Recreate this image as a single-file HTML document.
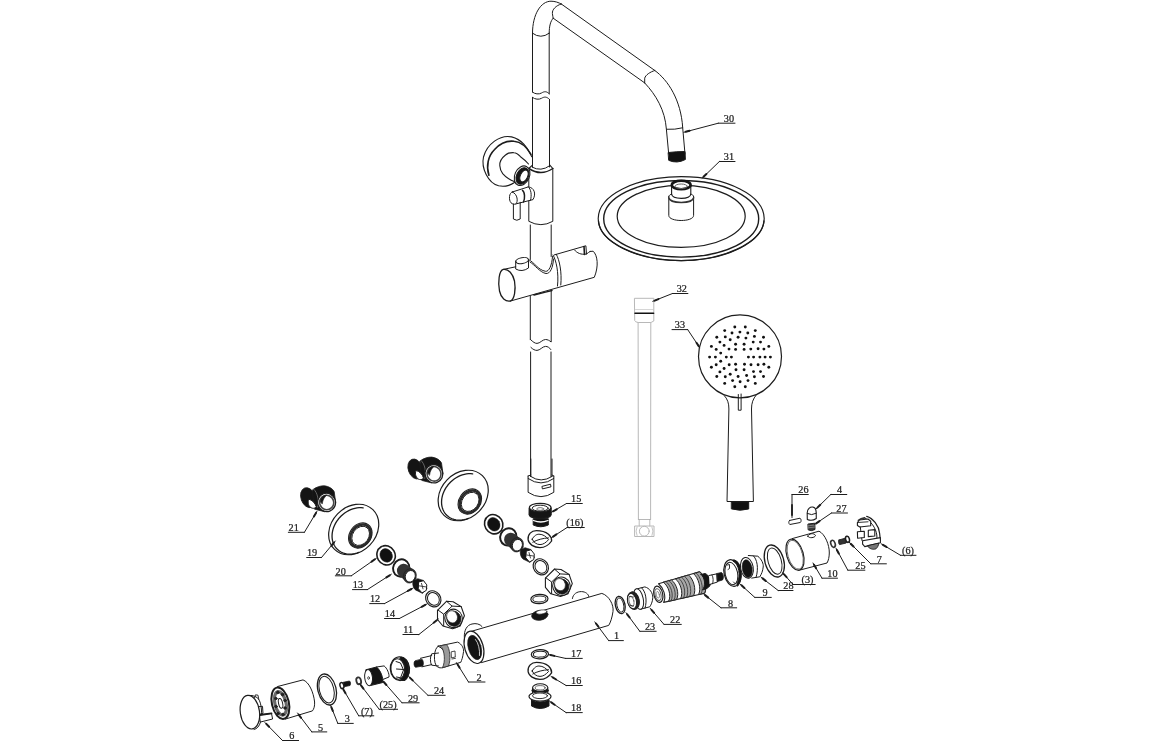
<!DOCTYPE html>
<html><head><meta charset="utf-8"><style>
html,body{margin:0;padding:0;background:#fff;}
body{width:1156px;height:742px;overflow:hidden;}
svg{display:block;}
text{font-family:"Liberation Serif",serif;font-size:11px;fill:#1c1c1c;stroke:#1c1c1c;stroke-width:0.25px;}
svg{will-change:transform;}
</style></head><body>
<svg width="1156" height="742" viewBox="0 0 1156 742" stroke-linecap="round" stroke-linejoin="round">
<path d="M532.5,33.2 L532.5,92.1" stroke="#1c1c1c" stroke-width="1.0" fill="none" />
<path d="M549.2,33.2 L549.2,93.8" stroke="#1c1c1c" stroke-width="1.0" fill="none" />
<path d="M532.5,92.1 C535,94.2 539,94.5 541.5,93 C544,91.5 546.5,90.8 549.2,93.8" stroke="#1c1c1c" stroke-width="1.0" fill="none" />
<path d="M532.5,97.4 C535,99.5 539,99.8 541.5,98.3 C544,96.8 546.5,96.2 549.5,99.4" stroke="#1c1c1c" stroke-width="1.0" fill="none" />
<path d="M532.5,97.4 L532.5,167" stroke="#1c1c1c" stroke-width="1.0" fill="none" />
<path d="M549.5,99.4 L549.5,167" stroke="#1c1c1c" stroke-width="1.0" fill="none" />
<path d="M532.5,33.2 Q540.8,39.5 549.2,33.2" stroke="#1c1c1c" stroke-width="1.0" fill="none" />
<path d="M532.5,33.2 C532.5,14 541,1.2 551,1.2 C555,1.2 558.5,2.5 561.3,4" stroke="#1c1c1c" stroke-width="1.0" fill="none" />
<path d="M549.2,33.2 C549.2,26 550.5,21 553.2,18.2" stroke="#1c1c1c" stroke-width="1.0" fill="none" />
<path d="M561.3,4 C556,5.5 552,9.5 552.4,13.5 C552.6,15.5 553,17 553.2,18.2" stroke="#1c1c1c" stroke-width="1.0" fill="none" />
<path d="M561.3,4 L654.8,70.5" stroke="#1c1c1c" stroke-width="1.0" fill="none" />
<path d="M553.2,18.2 L644.7,82.9" stroke="#1c1c1c" stroke-width="1.0" fill="none" />
<path d="M654.8,70.5 C650,72 645.5,75 644.7,78.2 L644.7,82.9" stroke="#1c1c1c" stroke-width="1.0" fill="none" />
<path d="M654.8,70.5 C668,80 681,100 682.7,127.8 L685,154" stroke="#1c1c1c" stroke-width="1.0" fill="none" />
<path d="M644.7,82.9 C656,95 665,110 666.4,129.3 L668.7,154" stroke="#1c1c1c" stroke-width="1.0" fill="none" />
<path d="M666.4,129.3 Q675,129.8 682.7,127.8" stroke="#1c1c1c" stroke-width="1.0" fill="none" />
<path d="M668.5,152.5 Q677,151.5 685,151.5 L685.4,159.5 Q677,164 669,160.5 Z" stroke="#1c1c1c" stroke-width="1.0" fill="#111" />
<line x1="718.3" y1="123.2" x2="735" y2="123.2" stroke="#1c1c1c" stroke-width="1.0"/>
<line x1="718.3" y1="123.2" x2="683.8" y2="132.3" stroke="#1c1c1c" stroke-width="1.0"/>
<line x1="685.7" y1="131.8" x2="689.6" y2="130.8" stroke="#1c1c1c" stroke-width="2.0"/>
<text transform="translate(734.0 122.0) scale(0.93 1)" text-anchor="end">30</text>
<ellipse cx="681.2" cy="218.6" rx="83" ry="42" transform="rotate(0 681.2 218.6)" stroke="#1c1c1c" stroke-width="1.15" fill="none"/>
<ellipse cx="681.2" cy="218.8" rx="77.5" ry="38.3" transform="rotate(0 681.2 218.8)" stroke="#1c1c1c" stroke-width="1.4" fill="none"/>
<path d="M598.5,221 C600,243 640,260.6 681.2,260.6 C722,260.6 762,243 764,221" stroke="#1c1c1c" stroke-width="1.3" fill="none" />
<ellipse cx="681.2" cy="216.3" rx="64" ry="31" transform="rotate(0 681.2 216.3)" stroke="#1c1c1c" stroke-width="1.2" fill="none"/>
<path d="M668.8,196.5 L668.8,215.4 C668.8,222.2 693.6,222.2 693.6,215.4 L693.6,196.5" stroke="#1c1c1c" stroke-width="1.0" fill="#fff" />
<path d="M668.8,196.5 C669,195 670.5,194.3 671.6,194.2 M693.6,196.5 C693.4,195 692,194.3 690.8,194.2" stroke="#1c1c1c" stroke-width="1.0" fill="none" />
<path d="M668.8,197.8 C670,204 692.5,204 693.6,197.8" stroke="#333" stroke-width="1.6" fill="none" />
<path d="M671.6,194.2 C672.5,199.8 690,199.8 690.8,194.2" stroke="#1c1c1c" stroke-width="1.1" fill="none" />
<path d="M671.6,185 L671.6,194.2 M690.8,185 L690.8,194.2" stroke="#1c1c1c" stroke-width="1.1" fill="none" />
<ellipse cx="681.2" cy="185.0" rx="9.4" ry="4.3" transform="rotate(0 681.2 185.0)" stroke="#161616" stroke-width="2.6" fill="#fff"/>
<ellipse cx="681.2" cy="186.3" rx="6.2" ry="2.3" transform="rotate(0 681.2 186.3)" stroke="#666" stroke-width="1.0" fill="none"/>
<line x1="719.4" y1="161.5" x2="735" y2="161.5" stroke="#1c1c1c" stroke-width="1.0"/>
<line x1="719.4" y1="161.5" x2="702.1" y2="178.2" stroke="#1c1c1c" stroke-width="1.0"/>
<line x1="703.5" y1="176.8" x2="706.4" y2="174.0" stroke="#1c1c1c" stroke-width="2.0"/>
<text transform="translate(734.0 160.3) scale(0.93 1)" text-anchor="end">31</text>
<path d="M532.2,167.2 Q541,172 549.6,165.8" stroke="#1c1c1c" stroke-width="1.0" fill="none" />
<path d="M528.8,168.5 L532.2,165.3 M549.6,164.8 L552.8,168.5" stroke="#1c1c1c" stroke-width="1.1" fill="none" />
<path d="M528.8,168.5 Q541,176.5 552.8,168.5" stroke="#1c1c1c" stroke-width="1.5" fill="none" />
<path d="M528.8,168.5 L528.8,221.3 Q541,228 552.8,221.3 L552.8,168.5" stroke="#1c1c1c" stroke-width="1.0" fill="none" />
<path d="M530.3,225 L530.3,259.5 M530.3,296 L530.3,339.7" stroke="#1c1c1c" stroke-width="1.0" fill="none" />
<path d="M551.2,225 L551.2,256.5 M551.2,291 L551.2,341.7" stroke="#1c1c1c" stroke-width="1.0" fill="none" />
<path d="M531.8,156.7 C527,147 522,139.5 511.6,136.9 C500,134.5 487,144 483.5,157 C481,168 488,183 498.6,185.8 C504,187 510,185.5 514.5,182.5" stroke="#1c1c1c" stroke-width="1.1" fill="none" />
<path d="M488.9,175.3 C486,166 488,156 494.6,149.5 C500,143.5 507,140.5 514,141.3 C522,142 527,147.5 531,154.3" stroke="#1c1c1c" stroke-width="1.6" fill="none" />
<path d="M528.5,164 C526,161 523,158.5 520.5,156.7 C518.5,154.5 516.5,152.7 514,152.7 C510,152.5 507.5,153 505.5,155 C501,158.5 499.5,162 499.8,165.6 C500,169 501,171.5 502.7,173.7 C506,177.5 510,180 514.8,181.8" stroke="#1c1c1c" stroke-width="1.1" fill="none" />
<ellipse cx="522.1" cy="175.7" rx="7.3" ry="10.2" transform="rotate(25 522.1 175.7)" stroke="#1c1c1c" stroke-width="1.1" fill="#fff"/>
<ellipse cx="522.5" cy="176.0" rx="5.9" ry="8.7" transform="rotate(25 522.5 176.0)" stroke="#161616" stroke-width="1.0" fill="#161616"/>
<ellipse cx="524.0" cy="176.0" rx="3.6" ry="6.2" transform="rotate(25 524.0 176.0)" stroke="#1c1c1c" stroke-width="0.9" fill="#fff"/>
<path d="M512.3,192 L528.3,186.9 C534,187.5 536.5,193.5 533,199.6 L516,203.9" stroke="#1c1c1c" stroke-width="1.0" fill="#fff" />
<path d="M512.3,192 C509,192.5 508.5,200 511,202.8 C512.5,204.3 514.5,204.5 516,203.9 C518,202 518,194 512.3,192 Z" stroke="#1c1c1c" stroke-width="1.0" fill="#fff" />
<path d="M522.5,190.3 C525,192 525,199 523.5,202" stroke="#1c1c1c" stroke-width="1.5" fill="none" />
<path d="M528.3,186.9 C531,189 532,195 530.5,200.3" stroke="#1c1c1c" stroke-width="1.0" fill="none" />
<path d="M513.4,204 L513.4,219 Q516.8,221.5 520.2,219 L520.2,202.3" stroke="#1c1c1c" stroke-width="1.0" fill="none" />
<path d="M503.3,269.4 L515.7,266.8" stroke="#1c1c1c" stroke-width="1.0" fill="none" />
<path d="M590,251.5 L593.1,251.2 C597.5,255 599,266 594.3,277.3 L510.6,301" stroke="#1c1c1c" stroke-width="1.0" fill="none" />
<path d="M503.3,269.4 C499,270.5 497.8,282 499.5,291 C501,298 505.5,302 510.6,301 C514.5,299 516,290 514.5,281 C513,274 508.5,268.5 503.3,269.4 Z" stroke="#1c1c1c" stroke-width="1.3" fill="none" />
<path d="M553,255 C556,260 559,272 557.5,286" stroke="#1c1c1c" stroke-width="1.0" fill="none" />
<path d="M556.3,254.3 C559.5,260 562,272 560.8,285" stroke="#1c1c1c" stroke-width="1.0" fill="none" />
<path d="M554.3,254.9 L585.9,245.8 L586.5,254" stroke="#1c1c1c" stroke-width="1.0" fill="none" />
<path d="M574.5,250 C577,253 581,255 586.5,254 C588,253 589,252 590,251.5" stroke="#1c1c1c" stroke-width="1.0" fill="none" />
<path d="M584,246.5 L584.5,254.5" stroke="#1c1c1c" stroke-width="1.6" fill="none" />
<path d="M528.8,259.7 C534,262 538,270 545.5,271.3 C549,272 552,265 552.5,256.5" stroke="#1c1c1c" stroke-width="1.0" fill="none" />
<path d="M530,262 C535,265 540,272.5 546,273.5 C550,274 553,268 553.5,259" stroke="#1c1c1c" stroke-width="1.0" fill="none" />
<path d="M515.7,261 L515.7,269 Q522,272.5 528.5,268 L528.5,260" stroke="#1c1c1c" stroke-width="1.0" fill="none" />
<ellipse cx="522.1" cy="260.6" rx="6.4" ry="3.0" transform="rotate(-10 522.1 260.6)" stroke="#1c1c1c" stroke-width="1.0" fill="none"/>
<path d="M534,295 C538,294 546,292 552,290.5" stroke="#1c1c1c" stroke-width="1.4" fill="none" />
<circle cx="740" cy="356.4" r="41.5" stroke="#1c1c1c" stroke-width="1.2" fill="none"/>
<circle cx="734.8" cy="327.0" r="1.45" fill="#111"/>
<circle cx="745.3" cy="327.0" r="1.45" fill="#111"/>
<circle cx="724.7" cy="330.6" r="1.45" fill="#111"/>
<circle cx="739.9" cy="332.1" r="1.45" fill="#111"/>
<circle cx="732.0" cy="333.0" r="1.45" fill="#111"/>
<circle cx="747.8" cy="333.0" r="1.45" fill="#111"/>
<circle cx="755.3" cy="330.6" r="1.45" fill="#111"/>
<circle cx="716.8" cy="337.3" r="1.45" fill="#111"/>
<circle cx="725.3" cy="336.9" r="1.45" fill="#111"/>
<circle cx="730.2" cy="339.7" r="1.45" fill="#111"/>
<circle cx="738.1" cy="337.3" r="1.45" fill="#111"/>
<circle cx="745.9" cy="338.1" r="1.45" fill="#111"/>
<circle cx="754.4" cy="336.4" r="1.45" fill="#111"/>
<circle cx="763.5" cy="337.3" r="1.45" fill="#111"/>
<circle cx="719.9" cy="342.1" r="1.45" fill="#111"/>
<circle cx="735.6" cy="344.2" r="1.45" fill="#111"/>
<circle cx="744.1" cy="344.2" r="1.45" fill="#111"/>
<circle cx="753.2" cy="342.1" r="1.45" fill="#111"/>
<circle cx="760.5" cy="342.1" r="1.45" fill="#111"/>
<circle cx="711.4" cy="346.4" r="1.45" fill="#111"/>
<circle cx="724.1" cy="345.4" r="1.45" fill="#111"/>
<circle cx="768.8" cy="346.4" r="1.45" fill="#111"/>
<circle cx="716.2" cy="349.4" r="1.45" fill="#111"/>
<circle cx="729.0" cy="349.1" r="1.45" fill="#111"/>
<circle cx="735.6" cy="349.4" r="1.45" fill="#111"/>
<circle cx="744.1" cy="349.4" r="1.45" fill="#111"/>
<circle cx="750.8" cy="349.1" r="1.45" fill="#111"/>
<circle cx="758.1" cy="348.8" r="1.45" fill="#111"/>
<circle cx="763.9" cy="349.1" r="1.45" fill="#111"/>
<circle cx="720.7" cy="353.1" r="1.45" fill="#111"/>
<circle cx="709.6" cy="357.1" r="1.45" fill="#111"/>
<circle cx="715.4" cy="357.1" r="1.45" fill="#111"/>
<circle cx="726.3" cy="357.1" r="1.45" fill="#111"/>
<circle cx="731.4" cy="357.1" r="1.45" fill="#111"/>
<circle cx="748.4" cy="357.1" r="1.45" fill="#111"/>
<circle cx="753.6" cy="357.1" r="1.45" fill="#111"/>
<circle cx="759.9" cy="357.1" r="1.45" fill="#111"/>
<circle cx="765.1" cy="357.1" r="1.45" fill="#111"/>
<circle cx="770.4" cy="357.1" r="1.45" fill="#111"/>
<circle cx="720.7" cy="361.2" r="1.45" fill="#111"/>
<circle cx="716.2" cy="364.8" r="1.45" fill="#111"/>
<circle cx="729.2" cy="364.8" r="1.45" fill="#111"/>
<circle cx="735.6" cy="364.3" r="1.45" fill="#111"/>
<circle cx="744.5" cy="364.3" r="1.45" fill="#111"/>
<circle cx="751.0" cy="364.8" r="1.45" fill="#111"/>
<circle cx="758.1" cy="364.8" r="1.45" fill="#111"/>
<circle cx="763.9" cy="364.3" r="1.45" fill="#111"/>
<circle cx="711.4" cy="367.3" r="1.45" fill="#111"/>
<circle cx="724.1" cy="368.5" r="1.45" fill="#111"/>
<circle cx="768.8" cy="367.3" r="1.45" fill="#111"/>
<circle cx="719.9" cy="371.9" r="1.45" fill="#111"/>
<circle cx="736.0" cy="369.7" r="1.45" fill="#111"/>
<circle cx="744.1" cy="369.7" r="1.45" fill="#111"/>
<circle cx="753.5" cy="371.6" r="1.45" fill="#111"/>
<circle cx="760.5" cy="371.6" r="1.45" fill="#111"/>
<circle cx="716.8" cy="376.5" r="1.45" fill="#111"/>
<circle cx="725.3" cy="376.7" r="1.45" fill="#111"/>
<circle cx="730.2" cy="374.3" r="1.45" fill="#111"/>
<circle cx="738.1" cy="376.5" r="1.45" fill="#111"/>
<circle cx="746.6" cy="375.5" r="1.45" fill="#111"/>
<circle cx="754.4" cy="376.7" r="1.45" fill="#111"/>
<circle cx="763.5" cy="376.5" r="1.45" fill="#111"/>
<circle cx="724.7" cy="383.4" r="1.45" fill="#111"/>
<circle cx="732.6" cy="380.6" r="1.45" fill="#111"/>
<circle cx="740.1" cy="381.8" r="1.45" fill="#111"/>
<circle cx="748.0" cy="380.6" r="1.45" fill="#111"/>
<circle cx="755.3" cy="383.4" r="1.45" fill="#111"/>
<circle cx="734.8" cy="386.7" r="1.45" fill="#111"/>
<circle cx="745.3" cy="386.7" r="1.45" fill="#111"/>
<path d="M724.2,395.5 C727.5,399 728.9,403 728.9,409 L727,501.5 L753.4,501.5 L751.5,409 C751.5,403 753,399 756.2,395" stroke="#1c1c1c" stroke-width="1.0" fill="none" />
<path d="M738.3,394.5 L738.3,410.2 L741.1,410.2 L741.1,394" stroke="#1c1c1c" stroke-width="1.0" fill="none" />
<path d="M731.7,502 L748.7,502 L748.7,509 Q740,511.5 731.7,509 Z" stroke="#1c1c1c" stroke-width="1.0" fill="#111" />
<line x1="672" y1="329.6" x2="687.7" y2="329.6" stroke="#1c1c1c" stroke-width="1.0"/>
<line x1="687.7" y1="329.6" x2="699.8" y2="347.8" stroke="#1c1c1c" stroke-width="1.0"/>
<line x1="698.7" y1="346.1" x2="696.5" y2="342.8" stroke="#1c1c1c" stroke-width="2.0"/>
<text transform="translate(674.8 328.40000000000003) scale(0.93 1)">33</text>
<path d="M634.8,298.3 L653.8,298.3 L653.8,321 Q651,322.5 650.8,322.5 L638.1,322.5 Q635,322 634.8,321 Z" stroke="#b8b8b8" stroke-width="1.0" fill="none" />
<path d="M635,313.2 L653.6,313.2" stroke="#111" stroke-width="1.5" fill="none" />
<path d="M635.5,309.5 L653.2,309.5" stroke="#bbb" stroke-width="0.6" fill="none" />
<path d="M638.1,322.5 L638.4,519.5 M650.8,322.5 L650.6,519.5 M638.4,519.5 L650.6,519.5" stroke="#b8b8b8" stroke-width="1.0" fill="none" />
<path d="M639.2,519.5 L639.2,526 M649.8,519.5 L649.8,526" stroke="#aaa" stroke-width="0.8" fill="none" />
<path d="M635,526 L654,526 L654,536.5 L635,536.5 Z" stroke="#b8b8b8" stroke-width="1.0" fill="none" />
<circle cx="644.3" cy="531.2" r="4.9" stroke="#b8b8b8" stroke-width="1.0" fill="none"/>
<path d="M637,527 Q635,531 637,535.5 M652,527 Q654,531 652,535.5" stroke="#b8b8b8" stroke-width="0.8" fill="none" />
<line x1="672.5" y1="293.5" x2="687.9" y2="293.5" stroke="#1c1c1c" stroke-width="1.0"/>
<line x1="672.5" y1="293.5" x2="652.8" y2="301.3" stroke="#1c1c1c" stroke-width="1.0"/>
<line x1="654.7" y1="300.6" x2="658.4" y2="299.1" stroke="#1c1c1c" stroke-width="2.0"/>
<text transform="translate(686.9 292.3) scale(0.93 1)" text-anchor="end">32</text>
<path d="M530.8,459 L530.8,476.5 M552,459 L552,476.5" stroke="#1c1c1c" stroke-width="1.0" fill="none" />
<path d="M530.6,352 L530.6,476.5 M551,352 L551,476.5" stroke="#1c1c1c" stroke-width="1.0" fill="none" />
<path d="M528.1,476 L530.8,475 M552,475 L553.8,476" stroke="#1c1c1c" stroke-width="1.0" fill="none" />
<path d="M528.1,476 L528.1,492.3 Q541,501 553.8,492.3 L553.8,476" stroke="#1c1c1c" stroke-width="1.0" fill="none" />
<path d="M528.1,478.5 Q541,487.5 553.8,478.5" stroke="#1c1c1c" stroke-width="1.0" fill="none" />
<path d="M530.8,476.5 Q541,483.5 552,476.5" stroke="#1c1c1c" stroke-width="1.0" fill="none" />
<path d="M542.3,486.3 L550.5,484.2 L551,486.8 L542.8,488.8 Z" stroke="#1c1c1c" stroke-width="1.0" fill="none" />
<path d="M530.7,339.7 C533,342 535,343.4 537,343.4 C540,343.4 542.5,339.5 545.5,339.5 C547.5,339.5 549.5,340.5 550.8,341.7" stroke="#1c1c1c" stroke-width="1.0" fill="none" />
<path d="M530.9,347.4 C533,349.5 535,350.4 537,350.4 C540,350.4 542.5,346.4 545.5,346.4 C547.5,346.4 549.5,347.5 550.8,349.5" stroke="#1c1c1c" stroke-width="1.0" fill="none" />
<path d="M529.3,508 L529.3,515 C530.5,519.5 549.5,519.5 551,515 L551,508" stroke="#1c1c1c" stroke-width="1.1" fill="none" />
<path d="M529.3,508 C529.3,505 551,505 551,508 L551,515 C549.5,519.5 530.5,519.5 529.3,515 Z" stroke="#1c1c1c" stroke-width="1.0" fill="#151515" />
<ellipse cx="540.2" cy="507.6" rx="10.8" ry="4.3" transform="rotate(0 540.2 507.6)" stroke="#1c1c1c" stroke-width="1.2" fill="#fff"/>
<ellipse cx="540.2" cy="508.2" rx="8.0" ry="3.0" transform="rotate(0 540.2 508.2)" stroke="#1c1c1c" stroke-width="1.0" fill="none"/>
<ellipse cx="540.2" cy="509.0" rx="3.5" ry="1.4" transform="rotate(0 540.2 509.0)" stroke="#555" stroke-width="0.8" fill="none"/>
<path d="M533.2,519 L533.2,525 Q540.7,528.5 548.3,525 L548.3,519 Z" stroke="#1c1c1c" stroke-width="1.0" fill="#151515" />
<path d="M533.5,520.5 Q540.7,523.5 548,520.5" stroke="#fff" stroke-width="1.3" fill="none" />
<line x1="566.5" y1="503.5" x2="582.3" y2="503.5" stroke="#1c1c1c" stroke-width="1.0"/>
<line x1="566.5" y1="503.5" x2="551.4" y2="512.3" stroke="#1c1c1c" stroke-width="1.0"/>
<line x1="553.1" y1="511.3" x2="556.6" y2="509.3" stroke="#1c1c1c" stroke-width="2.0"/>
<text transform="translate(581.3 502.3) scale(0.93 1)" text-anchor="end">15</text>
<g transform="translate(0 -131.8)">
<path d="M528.1,671.5 C527.5,666 531.5,662.4 536.4,662.4 C541.5,662.4 546,664 548.5,666 C550.5,667.8 551.8,670.5 551.6,672.8 C549,676.5 545,679.4 540,679.4 C534,679.4 528.7,676 528.1,671.5 Z" stroke="#1c1c1c" stroke-width="1.3" fill="none" />
<path d="M532.2,671 C534,667.5 536.5,666 539,666 C543,666 546.5,668.5 548.5,671.5 C546,674.5 543,676.4 540,676.4 C536.5,676.4 533.5,674 532.2,671 Z" stroke="#1c1c1c" stroke-width="1.0" fill="none" />
<path d="M532.8,674 C537,671.5 543,670 548.5,669.7" stroke="#1c1c1c" stroke-width="1.0" fill="none" />
</g>
<line x1="567.1" y1="527.5" x2="584.3" y2="527.5" stroke="#1c1c1c" stroke-width="1.0"/>
<line x1="567.1" y1="527.5" x2="551.4" y2="537.7" stroke="#1c1c1c" stroke-width="1.0"/>
<line x1="553.1" y1="536.6" x2="556.4" y2="534.4" stroke="#1c1c1c" stroke-width="2.0"/>
<text transform="translate(583.3 526.3) scale(0.93 1)" text-anchor="end">(16)</text>
<ellipse cx="415.5" cy="469.0" rx="7.2" ry="10.3" transform="rotate(-20 415.5 469.0)" stroke="#1c1c1c" stroke-width="0.8" fill="#141414"/>
<path d="M420,461 C424,458 428,457 431.7,457.1 C436,457.5 440,460 441.5,463 L443,474 L432,483 L422,480.5 Z" stroke="#1c1c1c" stroke-width="0.8" fill="#141414" />
<path d="M416,470.5 C414.5,474 416,478.5 419.5,479.5 C421.5,480 423,479 423.5,478 C422.5,474.5 419.5,471 416,470.5 Z" stroke="#1c1c1c" stroke-width="1.0" fill="#fff" />
<path d="M421,460.5 C425,464 426.5,472 424.8,478.5" stroke="#777" stroke-width="0.8" fill="none" />
<ellipse cx="433.9" cy="473.7" rx="8.9" ry="9.2" transform="rotate(-20 433.9 473.7)" stroke="#1c1c1c" stroke-width="1.3" fill="#fff"/>
<ellipse cx="434.0" cy="473.8" rx="7.0" ry="7.3" transform="rotate(-20 434.0 473.8)" stroke="#444" stroke-width="1.6" fill="#fff"/>
<path d="M427.6,473 C428,469 430.5,466.5 434,466.3 C432,468.5 430,470.8 429.6,475 Z" stroke="#1c1c1c" stroke-width="0.6" fill="#141414" />
<g transform="translate(-107.3 28.7)">
<ellipse cx="415.5" cy="469.0" rx="7.2" ry="10.3" transform="rotate(-20 415.5 469.0)" stroke="#1c1c1c" stroke-width="0.8" fill="#141414"/>
<path d="M420,461 C424,458 428,457 431.7,457.1 C436,457.5 440,460 441.5,463 L443,474 L432,483 L422,480.5 Z" stroke="#1c1c1c" stroke-width="0.8" fill="#141414" />
<path d="M416,470.5 C414.5,474 416,478.5 419.5,479.5 C421.5,480 423,479 423.5,478 C422.5,474.5 419.5,471 416,470.5 Z" stroke="#1c1c1c" stroke-width="1.0" fill="#fff" />
<path d="M421,460.5 C425,464 426.5,472 424.8,478.5" stroke="#777" stroke-width="0.8" fill="none" />
<ellipse cx="433.9" cy="473.7" rx="8.9" ry="9.2" transform="rotate(-20 433.9 473.7)" stroke="#1c1c1c" stroke-width="1.3" fill="#fff"/>
<ellipse cx="434.0" cy="473.8" rx="7.0" ry="7.3" transform="rotate(-20 434.0 473.8)" stroke="#444" stroke-width="1.6" fill="#fff"/>
<path d="M427.6,473 C428,469 430.5,466.5 434,466.3 C432,468.5 430,470.8 429.6,475 Z" stroke="#1c1c1c" stroke-width="0.6" fill="#141414" />
</g>
<ellipse cx="463.2" cy="495.5" rx="27.6" ry="22.4" transform="rotate(-46 463.2 495.5)" stroke="#1c1c1c" stroke-width="1.2" fill="#fff"/>
<path d="M468.42,518.38 L466.32,519.10 L464.21,519.64 L462.10,519.98 L460.01,520.13 L457.97,520.08 L455.97,519.85 L454.05,519.41 L452.22,518.79 L450.49,517.99 L448.88,517.01 L447.41,515.86 L446.07,514.55 L444.90,513.09 L443.88,511.50 L443.04,509.78 L442.39,507.96 L441.91,506.04 L441.63,504.05 L441.54,502.00 L441.65,499.90 L441.95,497.78 L442.43,495.65 L443.11,493.53 L443.96,491.44 L444.99,489.40 L446.18,487.42 L447.53,485.52 L449.01,483.71 L450.63,482.02 L452.37,480.45 L454.21,479.01 L456.14,477.73 L458.14,476.61 L460.19,475.66 L462.28,474.89 L464.39,474.30 L466.50,473.90 L468.59,473.69 L470.65,473.68 L472.66,473.87" stroke="#1c1c1c" stroke-width="1.3" fill="none" />
<ellipse cx="469.8" cy="501.5" rx="13.5" ry="10.7" transform="rotate(-54 469.8 501.5)" stroke="#1c1c1c" stroke-width="1.1" fill="#fff"/>
<ellipse cx="470.0" cy="501.7" rx="12.0" ry="9.4" transform="rotate(-54 470.0 501.7)" stroke="#2a2a2a" stroke-width="2.6" fill="none"/>
<ellipse cx="470.2" cy="501.8" rx="10.4" ry="8.0" transform="rotate(-54 470.2 501.8)" stroke="#1c1c1c" stroke-width="0.9" fill="#fff"/>
<g transform="translate(-109.5 34.0)">
<ellipse cx="463.2" cy="495.5" rx="27.6" ry="22.4" transform="rotate(-46 463.2 495.5)" stroke="#1c1c1c" stroke-width="1.2" fill="#fff"/>
<path d="M468.42,518.38 L466.32,519.10 L464.21,519.64 L462.10,519.98 L460.01,520.13 L457.97,520.08 L455.97,519.85 L454.05,519.41 L452.22,518.79 L450.49,517.99 L448.88,517.01 L447.41,515.86 L446.07,514.55 L444.90,513.09 L443.88,511.50 L443.04,509.78 L442.39,507.96 L441.91,506.04 L441.63,504.05 L441.54,502.00 L441.65,499.90 L441.95,497.78 L442.43,495.65 L443.11,493.53 L443.96,491.44 L444.99,489.40 L446.18,487.42 L447.53,485.52 L449.01,483.71 L450.63,482.02 L452.37,480.45 L454.21,479.01 L456.14,477.73 L458.14,476.61 L460.19,475.66 L462.28,474.89 L464.39,474.30 L466.50,473.90 L468.59,473.69 L470.65,473.68 L472.66,473.87" stroke="#1c1c1c" stroke-width="1.3" fill="none" />
<ellipse cx="469.8" cy="501.5" rx="13.5" ry="10.7" transform="rotate(-54 469.8 501.5)" stroke="#1c1c1c" stroke-width="1.1" fill="#fff"/>
<ellipse cx="470.0" cy="501.7" rx="12.0" ry="9.4" transform="rotate(-54 470.0 501.7)" stroke="#2a2a2a" stroke-width="2.6" fill="none"/>
<ellipse cx="470.2" cy="501.8" rx="10.4" ry="8.0" transform="rotate(-54 470.2 501.8)" stroke="#1c1c1c" stroke-width="0.9" fill="#fff"/>
</g>
<ellipse cx="493.7" cy="524.2" rx="9.0" ry="9.9" transform="rotate(-30 493.7 524.2)" stroke="#1c1c1c" stroke-width="1.6" fill="#fff"/>
<ellipse cx="493.8" cy="524.3" rx="6.0" ry="7.0" transform="rotate(-30 493.8 524.3)" stroke="#1c1c1c" stroke-width="0.5" fill="#111"/>
<g transform="translate(-107.6 31.1)">
<ellipse cx="493.7" cy="524.2" rx="9.0" ry="9.9" transform="rotate(-30 493.7 524.2)" stroke="#1c1c1c" stroke-width="1.6" fill="#fff"/>
<ellipse cx="493.8" cy="524.3" rx="6.0" ry="7.0" transform="rotate(-30 493.8 524.3)" stroke="#1c1c1c" stroke-width="0.5" fill="#111"/>
</g>
<ellipse cx="508.3" cy="536.9" rx="8.0" ry="8.8" transform="rotate(25 508.3 536.9)" stroke="#1c1c1c" stroke-width="1.9" fill="#fff"/>
<path d="M510.8,539.5 L515.6,543.6" stroke="#333" stroke-width="13.5" fill="none" />
<ellipse cx="517.0" cy="544.8" rx="6.4" ry="7.3" transform="rotate(20 517.0 544.8)" stroke="#1c1c1c" stroke-width="0.6" fill="#333"/>
<ellipse cx="517.4" cy="545.2" rx="5.0" ry="5.9" transform="rotate(20 517.4 545.2)" stroke="#1c1c1c" stroke-width="0.9" fill="#fff"/>
<g transform="translate(-107.1 31.1)">
<ellipse cx="508.3" cy="536.9" rx="8.0" ry="8.8" transform="rotate(25 508.3 536.9)" stroke="#1c1c1c" stroke-width="1.9" fill="#fff"/>
<path d="M510.8,539.5 L515.6,543.6" stroke="#333" stroke-width="13.5" fill="none" />
<ellipse cx="517.0" cy="544.8" rx="6.4" ry="7.3" transform="rotate(20 517.0 544.8)" stroke="#1c1c1c" stroke-width="0.6" fill="#333"/>
<ellipse cx="517.4" cy="545.2" rx="5.0" ry="5.9" transform="rotate(20 517.4 545.2)" stroke="#1c1c1c" stroke-width="0.9" fill="#fff"/>
</g>
<path d="M521,549 C519,553 521,559 525,560 L530,562.5 L534.5,557.5 L531,549.5 L525.5,547.8 Z" stroke="#1c1c1c" stroke-width="0.6" fill="#161616" />
<path d="M526.5,551 L531,549.8 L534.3,554 L533.8,559.5 L529.5,562 L526,558 Z" stroke="#1c1c1c" stroke-width="1.0" fill="#fff" />
<path d="M529,552.5 L530.5,558 M526.8,555 L533.5,556" stroke="#1c1c1c" stroke-width="0.8" fill="none" />
<g transform="translate(-107.5 30.9)">
<path d="M521,549 C519,553 521,559 525,560 L530,562.5 L534.5,557.5 L531,549.5 L525.5,547.8 Z" stroke="#1c1c1c" stroke-width="0.6" fill="#161616" />
<path d="M526.5,551 L531,549.8 L534.3,554 L533.8,559.5 L529.5,562 L526,558 Z" stroke="#1c1c1c" stroke-width="1.0" fill="#fff" />
<path d="M529,552.5 L530.5,558 M526.8,555 L533.5,556" stroke="#1c1c1c" stroke-width="0.8" fill="none" />
</g>
<ellipse cx="540.8" cy="566.8" rx="7.3" ry="8.4" transform="rotate(-35 540.8 566.8)" stroke="#1c1c1c" stroke-width="1.2" fill="none"/>
<ellipse cx="540.9" cy="566.9" rx="5.6" ry="6.6" transform="rotate(-35 540.9 566.9)" stroke="#1c1c1c" stroke-width="1.0" fill="none"/>
<g transform="translate(-107.5 32.0)">
<ellipse cx="540.8" cy="566.8" rx="7.3" ry="8.4" transform="rotate(-35 540.8 566.8)" stroke="#1c1c1c" stroke-width="1.2" fill="none"/>
<ellipse cx="540.9" cy="566.9" rx="5.6" ry="6.6" transform="rotate(-35 540.9 566.9)" stroke="#1c1c1c" stroke-width="1.0" fill="none"/>
</g>
<path d="M545.4,578.2 L554.6,569 L561,569.5 L569.1,574.4 L572.3,583.6 L568,593.8 L560.5,596.5 L550.8,593.8 L545.4,587.3 Z" stroke="#1c1c1c" stroke-width="1.1" fill="#fff" />
<path d="M545.9,577.8 L551.6,582 L551.6,593.6 M551.6,582 L560,573.9 L554.6,569.2 M560,573.9 L569.1,574.4" stroke="#1c1c1c" stroke-width="1.0" fill="none" />
<ellipse cx="561.5" cy="586.2" rx="8.7" ry="9.3" transform="rotate(-20 561.5 586.2)" stroke="#1c1c1c" stroke-width="1.1" fill="#fff"/>
<ellipse cx="561.7" cy="586.5" rx="7.0" ry="7.7" transform="rotate(-20 561.7 586.5)" stroke="#1c1c1c" stroke-width="0.8" fill="#151515"/>
<ellipse cx="560.0" cy="584.6" rx="5.4" ry="6.2" transform="rotate(-20 560.0 584.6)" stroke="#1c1c1c" stroke-width="0.6" fill="#fff"/>
<g transform="translate(-107.9 32.2)">
<path d="M545.4,578.2 L554.6,569 L561,569.5 L569.1,574.4 L572.3,583.6 L568,593.8 L560.5,596.5 L550.8,593.8 L545.4,587.3 Z" stroke="#1c1c1c" stroke-width="1.1" fill="#fff" />
<path d="M545.9,577.8 L551.6,582 L551.6,593.6 M551.6,582 L560,573.9 L554.6,569.2 M560,573.9 L569.1,574.4" stroke="#1c1c1c" stroke-width="1.0" fill="none" />
<ellipse cx="561.5" cy="586.2" rx="8.7" ry="9.3" transform="rotate(-20 561.5 586.2)" stroke="#1c1c1c" stroke-width="1.1" fill="#fff"/>
<ellipse cx="561.7" cy="586.5" rx="7.0" ry="7.7" transform="rotate(-20 561.7 586.5)" stroke="#1c1c1c" stroke-width="0.8" fill="#151515"/>
<ellipse cx="560.0" cy="584.6" rx="5.4" ry="6.2" transform="rotate(-20 560.0 584.6)" stroke="#1c1c1c" stroke-width="0.6" fill="#fff"/>
</g>
<path d="M464.3,637.2 C464,630 467,625 472,624 C476,623 480,624 482,626.5" stroke="#1c1c1c" stroke-width="1.0" fill="none" />
<path d="M572.4,598.5 C573,594 577,591.5 581.5,591.6 C585.5,591.7 588.5,594 588.8,596.5" stroke="#1c1c1c" stroke-width="1.0" fill="none" />
<path d="M471.1,631.4 L601.8,593.4 C609,595.5 614,605 613,611.5 C612,618 610.5,622.5 608.7,625.4 L481.5,662.6" stroke="#1c1c1c" stroke-width="1.0" fill="none" />
<ellipse cx="474.0" cy="647.3" rx="9.2" ry="16.6" transform="rotate(-16 474.0 647.3)" stroke="#1c1c1c" stroke-width="1.2" fill="#fff"/>
<ellipse cx="474.7" cy="647.5" rx="6.4" ry="12.6" transform="rotate(-16 474.7 647.5)" stroke="#1c1c1c" stroke-width="0.6" fill="#141414"/>
<path d="M475.5,639.5 C478.5,643 480,650 479.5,655.5" stroke="#ddd" stroke-width="0.9" fill="none" />
<ellipse cx="539.8" cy="615.3" rx="8.2" ry="4.9" transform="rotate(-8 539.8 615.3)" stroke="#1c1c1c" stroke-width="0.8" fill="#141414"/>
<ellipse cx="541.5" cy="612.0" rx="5.5" ry="2.0" transform="rotate(-8 541.5 612.0)" stroke="#1c1c1c" stroke-width="0.6" fill="#fff"/>
<line x1="608.7" y1="640.6" x2="623.4" y2="640.6" stroke="#1c1c1c" stroke-width="1.0"/>
<line x1="608.7" y1="640.6" x2="594.8" y2="621.9" stroke="#1c1c1c" stroke-width="1.0"/>
<line x1="596.0" y1="623.5" x2="598.4" y2="626.7" stroke="#1c1c1c" stroke-width="2.0"/>
<text transform="translate(619 639.4) scale(0.93 1)" text-anchor="end">1</text>
<path d="M438.2,646.2 L457.6,642.1 C462,644 464.5,649 463.3,653 C462.8,657 461.8,660 460.8,662.3 L443,667.6" stroke="#1c1c1c" stroke-width="1.0" fill="none" />
<path d="M438.2,646.2 C433.5,648 433,664 437.5,667 C439,668 441,668 443,667.6 C447.5,665 447.5,649 438.2,646.2 Z" stroke="#1c1c1c" stroke-width="1.0" fill="#fff" />
<path d="M440.5,645.8 L446.5,644.6 C450,648 451,660 448.5,666 L442.5,667.6 C445.5,662 445,650 440.5,645.8 Z" stroke="#333" stroke-width="0.9" fill="#9a9a9a" />
<path d="M438.5,653 L431.7,653.8 C430,656 430,663 431.7,665.2 L438.5,666" stroke="#1c1c1c" stroke-width="1.0" fill="none" />
<path d="M420.4,658.3 L431.7,655.6 M422,666.8 L431.7,664.6" stroke="#1c1c1c" stroke-width="1.0" fill="none" />
<path d="M414.8,661 C413.5,662 413.8,666.5 415.5,667.3 L422.8,666 C423.8,664 423.5,660.5 422,659.3 Z" stroke="#1c1c1c" stroke-width="0.8" fill="#141414" />
<path d="M451.5,651.8 L455,651 L455.3,657 L451.8,657.8 Z M452,659 L455.5,658.3" stroke="#1c1c1c" stroke-width="0.8" fill="none" />
<line x1="468.5" y1="682" x2="485" y2="682" stroke="#1c1c1c" stroke-width="1.0"/>
<line x1="468.5" y1="682" x2="456.4" y2="662.6" stroke="#1c1c1c" stroke-width="1.0"/>
<line x1="457.5" y1="664.3" x2="459.6" y2="667.7" stroke="#1c1c1c" stroke-width="2.0"/>
<text transform="translate(481.5 680.8) scale(0.93 1)" text-anchor="end">2</text>
<ellipse cx="399.9" cy="668.7" rx="9.6" ry="11.8" transform="rotate(-4 399.9 668.7)" stroke="#1c1c1c" stroke-width="1.3" fill="#fff"/>
<path d="M401,657 C409.5,658 412,675 404.5,680.5 C401,680.5 400,679 401.5,678.5 C406.5,674 406,661 399.5,659.5 Z" stroke="#1c1c1c" stroke-width="1.2" fill="#141414" />
<ellipse cx="397.8" cy="669.0" rx="6.8" ry="10.3" transform="rotate(-4 397.8 669.0)" stroke="#1c1c1c" stroke-width="1.0" fill="#fff"/>
<path d="M396,661.5 L400.5,663 L403.5,670 L400.5,677.8 L396.5,677 M396.5,669 L403.5,669.5" stroke="#1c1c1c" stroke-width="1.0" fill="none" />
<line x1="427.9" y1="695.3" x2="445.2" y2="695.3" stroke="#1c1c1c" stroke-width="1.0"/>
<line x1="427.9" y1="695.3" x2="408.4" y2="676.2" stroke="#1c1c1c" stroke-width="1.0"/>
<line x1="409.8" y1="677.6" x2="412.7" y2="680.4" stroke="#1c1c1c" stroke-width="2.0"/>
<text transform="translate(444.2 694.0999999999999) scale(0.93 1)" text-anchor="end">24</text>
<path d="M376.5,667 L384.1,665.9 C387,668 389.5,674 389,677 L382.8,679.5" stroke="#1c1c1c" stroke-width="1.0" fill="#fff" />
<path d="M366.1,669.7 L376.5,667 C380.5,670 383.5,678 382.8,682.5 L370.3,685.6 Z" stroke="#1c1c1c" stroke-width="1.0" fill="#141414" />
<ellipse cx="368.6" cy="677.6" rx="3.9" ry="8.1" transform="rotate(-6 368.6 677.6)" stroke="#1c1c1c" stroke-width="1.0" fill="#fff"/>
<ellipse cx="368.6" cy="678.0" rx="0.9" ry="1.4" transform="rotate(0 368.6 678.0)" stroke="#333" stroke-width="0.8" fill="none"/>
<line x1="402" y1="702.8" x2="419.2" y2="702.8" stroke="#1c1c1c" stroke-width="1.0"/>
<line x1="402" y1="702.8" x2="382.5" y2="680.5" stroke="#1c1c1c" stroke-width="1.0"/>
<line x1="383.8" y1="682.0" x2="386.4" y2="685.0" stroke="#1c1c1c" stroke-width="2.0"/>
<text transform="translate(418.2 701.5999999999999) scale(0.93 1)" text-anchor="end">29</text>
<ellipse cx="358.7" cy="680.8" rx="2.3" ry="3.5" transform="rotate(-15 358.7 680.8)" stroke="#333" stroke-width="1.8" fill="none"/>
<line x1="379.2" y1="709.3" x2="397.6" y2="709.3" stroke="#1c1c1c" stroke-width="1.0"/>
<line x1="379.2" y1="709.3" x2="359.8" y2="683.8" stroke="#1c1c1c" stroke-width="1.0"/>
<line x1="361.0" y1="685.4" x2="363.4" y2="688.6" stroke="#1c1c1c" stroke-width="2.0"/>
<text transform="translate(396.6 708.0999999999999) scale(0.93 1)" text-anchor="end">(25)</text>
<path d="M343.3,682.3 L349.5,681 C350.8,682 350.8,684.5 350,685.5 L343.8,686.8 Z" stroke="#1c1c1c" stroke-width="0.8" fill="#141414" />
<ellipse cx="341.9" cy="685.6" rx="1.9" ry="3.1" transform="rotate(-15 341.9 685.6)" stroke="#1c1c1c" stroke-width="1.5" fill="#fff"/>
<line x1="358.7" y1="715.8" x2="373.8" y2="715.8" stroke="#1c1c1c" stroke-width="1.0"/>
<line x1="358.7" y1="715.8" x2="342.5" y2="688" stroke="#1c1c1c" stroke-width="1.0"/>
<line x1="343.5" y1="689.7" x2="345.5" y2="693.2" stroke="#1c1c1c" stroke-width="2.0"/>
<text transform="translate(372.8 714.5999999999999) scale(0.93 1)" text-anchor="end">(7)</text>
<ellipse cx="327" cy="689.5" rx="9.1" ry="15.8" transform="rotate(-14 327 689.5)" stroke="#1c1c1c" stroke-width="1.3" fill="none"/>
<ellipse cx="326.6" cy="689.6" rx="7.2" ry="13.6" transform="rotate(-14 326.6 689.6)" stroke="#1c1c1c" stroke-width="1.0" fill="none"/>
<line x1="337.8" y1="723.4" x2="353.3" y2="723.4" stroke="#1c1c1c" stroke-width="1.0"/>
<line x1="337.8" y1="723.4" x2="330.6" y2="705.3" stroke="#1c1c1c" stroke-width="1.0"/>
<line x1="331.3" y1="707.2" x2="332.8" y2="710.9" stroke="#1c1c1c" stroke-width="2.0"/>
<text transform="translate(349.8 722.1999999999999) scale(0.93 1)" text-anchor="end">3</text>
<path d="M277.6,686.5 L303,679.9 C309,682 313.5,692 314.6,702 C314.8,706 314,709 312.4,710.9 L285.3,719.1" stroke="#1c1c1c" stroke-width="1.0" fill="#fff" />
<ellipse cx="280.4" cy="703.2" rx="8.5" ry="16.0" transform="rotate(-13 280.4 703.2)" stroke="#1c1c1c" stroke-width="2.0" fill="#fff"/>
<ellipse cx="280.5" cy="703.3" rx="5.6" ry="12.0" transform="rotate(-13 280.5 703.3)" stroke="#6a6a6a" stroke-width="3.2" fill="none"/>
<circle cx="277.8" cy="692.5" r="1.3" stroke="#1c1c1c" stroke-width="0.8" fill="#222"/>
<circle cx="282.5" cy="694.5" r="1.3" stroke="#1c1c1c" stroke-width="0.8" fill="#222"/>
<circle cx="285" cy="700.5" r="1.3" stroke="#1c1c1c" stroke-width="0.8" fill="#222"/>
<circle cx="285" cy="708" r="1.3" stroke="#1c1c1c" stroke-width="0.8" fill="#222"/>
<circle cx="283" cy="714.5" r="1.3" stroke="#1c1c1c" stroke-width="0.8" fill="#222"/>
<circle cx="278" cy="713.5" r="1.3" stroke="#1c1c1c" stroke-width="0.8" fill="#222"/>
<circle cx="276" cy="706.5" r="1.3" stroke="#1c1c1c" stroke-width="0.8" fill="#222"/>
<circle cx="275.8" cy="698.5" r="1.3" stroke="#1c1c1c" stroke-width="0.8" fill="#222"/>
<ellipse cx="280.6" cy="703.4" rx="2.0" ry="5.0" transform="rotate(-13 280.6 703.4)" stroke="#1c1c1c" stroke-width="1.0" fill="#fff"/>
<line x1="311.8" y1="731.9" x2="326.8" y2="731.9" stroke="#1c1c1c" stroke-width="1.0"/>
<line x1="311.8" y1="731.9" x2="297.5" y2="713" stroke="#1c1c1c" stroke-width="1.0"/>
<line x1="298.7" y1="714.6" x2="301.1" y2="717.8" stroke="#1c1c1c" stroke-width="2.0"/>
<text transform="translate(323 730.6999999999999) scale(0.93 1)" text-anchor="end">5</text>
<path d="M249.5,695.4 C253,695 257,697 258.5,699 C261.5,703 262.5,714 260.5,722 C259.5,726 257,729 254,729.5" stroke="#1c1c1c" stroke-width="1.0" fill="none" />
<path d="M254.5,697.8 L255.5,694.8 L258,695.2 L258.7,699" stroke="#1c1c1c" stroke-width="0.9" fill="none" />
<path d="M259.5,706.5 L262.5,706.3 L263,713.5 L260.5,714" stroke="#1c1c1c" stroke-width="1.0" fill="none" />
<path d="M259.8,715 L271.5,713.4 L272.6,719 L260.5,722 Z" stroke="#1c1c1c" stroke-width="1.0" fill="#fff" />
<path d="M259.8,715 L271.5,713.4" stroke="#1c1c1c" stroke-width="1.8" fill="none" />
<ellipse cx="249.9" cy="712.2" rx="9.6" ry="16.9" transform="rotate(-8 249.9 712.2)" stroke="#1c1c1c" stroke-width="1.2" fill="#fff"/>
<line x1="282.5" y1="740.5" x2="298.6" y2="740.5" stroke="#1c1c1c" stroke-width="1.0"/>
<line x1="282.5" y1="740.5" x2="264.9" y2="722.5" stroke="#1c1c1c" stroke-width="1.0"/>
<line x1="266.3" y1="723.9" x2="269.1" y2="726.8" stroke="#1c1c1c" stroke-width="2.0"/>
<text transform="translate(294.3 739.3) scale(0.93 1)" text-anchor="end">6</text>
<line x1="288.3" y1="532.3" x2="304.4" y2="532.3" stroke="#1c1c1c" stroke-width="1.0"/>
<line x1="304.4" y1="532.3" x2="317" y2="511.2" stroke="#1c1c1c" stroke-width="1.0"/>
<line x1="316.0" y1="512.9" x2="313.9" y2="516.4" stroke="#1c1c1c" stroke-width="2.0"/>
<text transform="translate(288.6 531.0999999999999) scale(0.93 1)">21</text>
<line x1="306.7" y1="557.5" x2="321.5" y2="557.5" stroke="#1c1c1c" stroke-width="1.0"/>
<line x1="321.5" y1="557.5" x2="335.3" y2="541" stroke="#1c1c1c" stroke-width="1.0"/>
<line x1="334.0" y1="542.5" x2="331.5" y2="545.6" stroke="#1c1c1c" stroke-width="2.0"/>
<text transform="translate(307.0 556.3) scale(0.93 1)">19</text>
<line x1="335.3" y1="575.8" x2="351.3" y2="575.8" stroke="#1c1c1c" stroke-width="1.0"/>
<line x1="351.3" y1="575.8" x2="376.5" y2="558.2" stroke="#1c1c1c" stroke-width="1.0"/>
<line x1="374.9" y1="559.3" x2="371.6" y2="561.6" stroke="#1c1c1c" stroke-width="2.0"/>
<text transform="translate(335.6 574.5999999999999) scale(0.93 1)">20</text>
<line x1="352.5" y1="589.6" x2="367.4" y2="589.6" stroke="#1c1c1c" stroke-width="1.0"/>
<line x1="367.4" y1="589.6" x2="391.4" y2="574.2" stroke="#1c1c1c" stroke-width="1.0"/>
<line x1="389.7" y1="575.3" x2="386.4" y2="577.4" stroke="#1c1c1c" stroke-width="2.0"/>
<text transform="translate(352.8 588.4) scale(0.93 1)">13</text>
<line x1="369.7" y1="603.6" x2="384.5" y2="603.6" stroke="#1c1c1c" stroke-width="1.0"/>
<line x1="384.5" y1="603.6" x2="413.2" y2="588" stroke="#1c1c1c" stroke-width="1.0"/>
<line x1="411.4" y1="589.0" x2="407.9" y2="590.9" stroke="#1c1c1c" stroke-width="2.0"/>
<text transform="translate(370.0 602.4) scale(0.93 1)">12</text>
<line x1="384.5" y1="618.5" x2="399.4" y2="618.5" stroke="#1c1c1c" stroke-width="1.0"/>
<line x1="399.4" y1="618.5" x2="427" y2="604" stroke="#1c1c1c" stroke-width="1.0"/>
<line x1="425.2" y1="604.9" x2="421.7" y2="606.8" stroke="#1c1c1c" stroke-width="2.0"/>
<text transform="translate(384.8 617.3) scale(0.93 1)">14</text>
<line x1="402.9" y1="634.5" x2="418.9" y2="634.5" stroke="#1c1c1c" stroke-width="1.0"/>
<line x1="418.9" y1="634.5" x2="438.4" y2="619" stroke="#1c1c1c" stroke-width="1.0"/>
<line x1="436.8" y1="620.2" x2="433.7" y2="622.7" stroke="#1c1c1c" stroke-width="2.0"/>
<text transform="translate(403.2 633.3) scale(0.93 1)">11</text>
<ellipse cx="539.4" cy="599.0" rx="8.6" ry="4.7" transform="rotate(-3 539.4 599.0)" stroke="#1c1c1c" stroke-width="1.2" fill="none"/>
<ellipse cx="539.4" cy="599.0" rx="6.6" ry="3.0" transform="rotate(-3 539.4 599.0)" stroke="#1c1c1c" stroke-width="1.0" fill="none"/>
<ellipse cx="539.9" cy="654.2" rx="8.6" ry="4.6" transform="rotate(-3 539.9 654.2)" stroke="#1c1c1c" stroke-width="1.2" fill="none"/>
<ellipse cx="539.9" cy="654.2" rx="6.6" ry="2.9" transform="rotate(-3 539.9 654.2)" stroke="#1c1c1c" stroke-width="1.0" fill="none"/>
<line x1="565.5" y1="658.4" x2="582.3" y2="658.4" stroke="#1c1c1c" stroke-width="1.0"/>
<line x1="565.5" y1="658.4" x2="548.5" y2="654.6" stroke="#1c1c1c" stroke-width="1.0"/>
<line x1="550.5" y1="655.0" x2="554.4" y2="655.9" stroke="#1c1c1c" stroke-width="2.0"/>
<text transform="translate(581.3 657.1999999999999) scale(0.93 1)" text-anchor="end">17</text>
<path d="M528.1,671.5 C527.5,666 531.5,662.4 536.4,662.4 C541.5,662.4 546,664 548.5,666 C550.5,667.8 551.8,670.5 551.6,672.8 C549,676.5 545,679.4 540,679.4 C534,679.4 528.7,676 528.1,671.5 Z" stroke="#1c1c1c" stroke-width="1.3" fill="none" />
<path d="M532.2,671 C534,667.5 536.5,666 539,666 C543,666 546.5,668.5 548.5,671.5 C546,674.5 543,676.4 540,676.4 C536.5,676.4 533.5,674 532.2,671 Z" stroke="#1c1c1c" stroke-width="1.0" fill="none" />
<path d="M532.8,674 C537,671.5 543,670 548.5,669.7" stroke="#1c1c1c" stroke-width="1.0" fill="none" />
<line x1="566.1" y1="685.5" x2="582.3" y2="685.5" stroke="#1c1c1c" stroke-width="1.0"/>
<line x1="566.1" y1="685.5" x2="551" y2="676.4" stroke="#1c1c1c" stroke-width="1.0"/>
<line x1="552.7" y1="677.4" x2="556.1" y2="679.5" stroke="#1c1c1c" stroke-width="2.0"/>
<text transform="translate(581.3 684.3) scale(0.93 1)" text-anchor="end">16</text>
<path d="M532.5,688 L532.5,693 Q540,697.5 547.8,693 L547.8,688" stroke="#1c1c1c" stroke-width="1.0" fill="#fff" />
<ellipse cx="540.2" cy="687.6" rx="7.6" ry="3.8" transform="rotate(0 540.2 687.6)" stroke="#1c1c1c" stroke-width="1.1" fill="#fff"/>
<ellipse cx="540.2" cy="687.8" rx="5.0" ry="2.2" transform="rotate(0 540.2 687.8)" stroke="#444" stroke-width="0.8" fill="none"/>
<path d="M532.5,690.5 Q540,695 547.8,690.5" stroke="#151515" stroke-width="2.2" fill="none" />
<ellipse cx="540.0" cy="696.5" rx="11.0" ry="4.5" transform="rotate(0 540.0 696.5)" stroke="#1c1c1c" stroke-width="1.1" fill="#fff"/>
<ellipse cx="540.0" cy="695.8" rx="7.5" ry="2.8" transform="rotate(0 540.0 695.8)" stroke="#1c1c1c" stroke-width="0.9" fill="none"/>
<path d="M531.5,700 L531.5,706 Q540,711 549,706 L549,700 Q540,704 531.5,700 Z" stroke="#1c1c1c" stroke-width="1.0" fill="#151515" />
<line x1="566.1" y1="712.6" x2="582.3" y2="712.6" stroke="#1c1c1c" stroke-width="1.0"/>
<line x1="566.1" y1="712.6" x2="549.7" y2="701.3" stroke="#1c1c1c" stroke-width="1.0"/>
<line x1="551.3" y1="702.4" x2="554.6" y2="704.7" stroke="#1c1c1c" stroke-width="2.0"/>
<text transform="translate(581.3 711.4) scale(0.93 1)" text-anchor="end">18</text>
<ellipse cx="620.2" cy="605.0" rx="4.8" ry="8.8" transform="rotate(-12 620.2 605.0)" stroke="#1c1c1c" stroke-width="1.3" fill="none"/>
<ellipse cx="620.3" cy="605.0" rx="3.4" ry="7.2" transform="rotate(-12 620.3 605.0)" stroke="#1c1c1c" stroke-width="0.9" fill="none"/>
<line x1="639.8" y1="631.3" x2="656.2" y2="631.3" stroke="#1c1c1c" stroke-width="1.0"/>
<line x1="639.8" y1="631.3" x2="626" y2="612.7" stroke="#1c1c1c" stroke-width="1.0"/>
<line x1="627.2" y1="614.3" x2="629.6" y2="617.5" stroke="#1c1c1c" stroke-width="2.0"/>
<text transform="translate(655.2 630.0999999999999) scale(0.93 1)" text-anchor="end">23</text>
<path d="M636.9,588.9 L644.8,586.9 C649.5,588 653,593 652.8,597.8 C652.5,602 651,605 649.8,606.8 L639.9,609.3" stroke="#1c1c1c" stroke-width="1.0" fill="#fff" />
<ellipse cx="638.6" cy="599.0" rx="4.6" ry="10.5" transform="rotate(-12 638.6 599.0)" stroke="#1c1c1c" stroke-width="1.0" fill="#fff"/>
<path d="M641.5,587.8 C645.5,591 647.5,600 645,608.3" stroke="#1c1c1c" stroke-width="1.0" fill="none" />
<ellipse cx="633.4" cy="600.6" rx="5.8" ry="8.9" transform="rotate(-12 633.4 600.6)" stroke="#1c1c1c" stroke-width="1.0" fill="#222"/>
<ellipse cx="632.0" cy="601.1" rx="4.4" ry="7.7" transform="rotate(-12 632.0 601.1)" stroke="#1c1c1c" stroke-width="1.0" fill="#fff"/>
<ellipse cx="631.5" cy="601.4" rx="2.4" ry="5.2" transform="rotate(-12 631.5 601.4)" stroke="#555" stroke-width="0.8" fill="none"/>
<path d="M629.5,596.5 L633.5,597 M629.5,605 L633.5,606" stroke="#1c1c1c" stroke-width="0.8" fill="none" />
<line x1="664" y1="624.4" x2="681.3" y2="624.4" stroke="#1c1c1c" stroke-width="1.0"/>
<line x1="664" y1="624.4" x2="650.2" y2="608.3" stroke="#1c1c1c" stroke-width="1.0"/>
<line x1="651.5" y1="609.8" x2="654.1" y2="612.9" stroke="#1c1c1c" stroke-width="2.0"/>
<text transform="translate(680.3 623.1999999999999) scale(0.93 1)" text-anchor="end">22</text>
<path d="M658.5,583.7 L699.5,571.8 C704.5,575.8 707.6,587.2 704.6,593.2 L663.6,602.4 C666.6,596.4 663.5,587.7 658.5,583.7 Z" stroke="#222" stroke-width="1.1" fill="#fff" />
<path d="M663.5,582.2 L671.5,579.9 C676.5,583.9 679.6,593.5 676.6,599.5 L668.6,601.3 C671.6,595.3 668.5,586.2 663.5,582.2 Z" stroke="#222" stroke-width="1.0" fill="#a8a8a8" />
<path d="M675.5,578.8 L688.5,575.0 C693.5,579.0 696.6,589.6 693.6,595.6 L680.6,598.6 C683.6,592.6 680.5,582.8 675.5,578.8 Z" stroke="#222" stroke-width="1.0" fill="#a8a8a8" />
<path d="M693.5,573.6 L699.5,571.8 C704.5,575.8 707.6,587.2 704.6,593.2 L698.6,594.5 C701.6,588.5 698.5,577.6 693.5,573.6 Z" stroke="#222" stroke-width="1.0" fill="#a8a8a8" />
<path d="M666.0,581.5 C671.0,585.5 674.1,594.7 671.1,600.7" stroke="#3a3a3a" stroke-width="0.9" fill="none" />
<path d="M669.0,580.7 C674.0,584.7 677.1,594.0 674.1,600.0" stroke="#3a3a3a" stroke-width="0.9" fill="none" />
<path d="M678.5,577.9 C683.5,581.9 686.6,591.9 683.6,597.9" stroke="#3a3a3a" stroke-width="0.9" fill="none" />
<path d="M681.5,577.0 C686.5,581.0 689.6,591.2 686.6,597.2" stroke="#3a3a3a" stroke-width="0.9" fill="none" />
<path d="M684.5,576.2 C689.5,580.2 692.6,590.5 689.6,596.5" stroke="#3a3a3a" stroke-width="0.9" fill="none" />
<path d="M696.0,572.8 C701.0,576.8 704.1,588.0 701.1,594.0" stroke="#3a3a3a" stroke-width="0.9" fill="none" />
<ellipse cx="658.3" cy="594.3" rx="4.4" ry="8.3" transform="rotate(-12 658.3 594.3)" stroke="#1c1c1c" stroke-width="1.2" fill="#fff"/>
<ellipse cx="658.0" cy="594.6" rx="3.0" ry="6.0" transform="rotate(-12 658.0 594.6)" stroke="#555" stroke-width="1.0" fill="none"/>
<ellipse cx="657.8" cy="594.8" rx="1.6" ry="3.4" transform="rotate(-12 657.8 594.8)" stroke="#777" stroke-width="0.8" fill="none"/>
<path d="M701,574.5 L705,573.5 C709,575 711.5,580 710.5,584 C710,586.5 708,588 705.5,589 L702.5,590 C705.5,586 705.5,578 701,574.5 Z" stroke="#1c1c1c" stroke-width="1.0" fill="#141414" />
<path d="M709,575.5 L717,573.8 L717.5,582 L709.5,584.5" stroke="#1c1c1c" stroke-width="1.0" fill="#fff" />
<path d="M712,575 C713.5,577 713.5,582 712.5,583.8" stroke="#1c1c1c" stroke-width="0.9" fill="none" />
<path d="M717,573.5 L721.5,572.5 C723.5,573.5 724,578.5 722.5,580 L717.5,581.5 Z" stroke="#1c1c1c" stroke-width="0.8" fill="#141414" />
<line x1="721" y1="607.8" x2="736.7" y2="607.8" stroke="#1c1c1c" stroke-width="1.0"/>
<line x1="721" y1="607.8" x2="703.5" y2="593.9" stroke="#1c1c1c" stroke-width="1.0"/>
<line x1="705.1" y1="595.1" x2="708.2" y2="597.6" stroke="#1c1c1c" stroke-width="2.0"/>
<text transform="translate(733 606.5999999999999) scale(0.93 1)" text-anchor="end">8</text>
<ellipse cx="732.3" cy="573.0" rx="8.2" ry="13.5" transform="rotate(-12 732.3 573.0)" stroke="#1c1c1c" stroke-width="1.2" fill="#fff"/>
<path d="M734,559.8 C742,561 744,580 737.5,586.3 C737,585 736.5,584 737.5,582.5 C740.5,576 739.5,564 733,561 Z" stroke="#1c1c1c" stroke-width="1.0" fill="#141414" />
<ellipse cx="731.4" cy="573.5" rx="6.2" ry="11.3" transform="rotate(-12 731.4 573.5)" stroke="#1c1c1c" stroke-width="1.0" fill="#fff"/>
<path d="M727.5,565 L729.5,564.5 L729.5,568.5 L728,569.5 M733.5,582 L735,583.5" stroke="#1c1c1c" stroke-width="0.9" fill="none" />
<line x1="754.8" y1="597.4" x2="771.3" y2="597.4" stroke="#1c1c1c" stroke-width="1.0"/>
<line x1="754.8" y1="597.4" x2="740" y2="584" stroke="#1c1c1c" stroke-width="1.0"/>
<line x1="741.5" y1="585.3" x2="744.4" y2="588.0" stroke="#1c1c1c" stroke-width="2.0"/>
<text transform="translate(767.5 596.1999999999999) scale(0.93 1)" text-anchor="end">9</text>
<path d="M748.3,555.5 L757.8,556.2 C761.5,559 763.8,564 763.2,567 C762.8,571 761.5,574 759.8,576.8 L751.7,578.1" stroke="#1c1c1c" stroke-width="1.0" fill="#fff" />
<path d="M753.3,555.8 C757,559 759,568 756,577.5" stroke="#1c1c1c" stroke-width="1.0" fill="none" />
<ellipse cx="746.9" cy="567.8" rx="6.3" ry="10.5" transform="rotate(-10 746.9 567.8)" stroke="#1c1c1c" stroke-width="1.0" fill="#fff"/>
<ellipse cx="747.2" cy="568.7" rx="4.9" ry="9.0" transform="rotate(-10 747.2 568.7)" stroke="#1c1c1c" stroke-width="0.6" fill="#141414"/>
<line x1="778.2" y1="590.5" x2="793" y2="590.5" stroke="#1c1c1c" stroke-width="1.0"/>
<line x1="778.2" y1="590.5" x2="761" y2="577.2" stroke="#1c1c1c" stroke-width="1.0"/>
<line x1="762.6" y1="578.4" x2="765.7" y2="580.9" stroke="#1c1c1c" stroke-width="2.0"/>
<text transform="translate(793.5 589.3) scale(0.93 1)" text-anchor="end">28</text>
<ellipse cx="774.3" cy="561.0" rx="9.4" ry="16.4" transform="rotate(-16 774.3 561.0)" stroke="#1c1c1c" stroke-width="1.3" fill="none"/>
<ellipse cx="774.7" cy="561.1" rx="6.6" ry="13.5" transform="rotate(-16 774.7 561.1)" stroke="#1c1c1c" stroke-width="1.0" fill="none"/>
<line x1="793" y1="584.5" x2="815.2" y2="584.5" stroke="#1c1c1c" stroke-width="1.0"/>
<line x1="793" y1="584.5" x2="782.6" y2="572.7" stroke="#1c1c1c" stroke-width="1.0"/>
<line x1="783.9" y1="574.2" x2="786.6" y2="577.2" stroke="#1c1c1c" stroke-width="2.0"/>
<text transform="translate(813.5 583.3) scale(0.93 1)" text-anchor="end">(3)</text>
<path d="M792.2,538.6 L819,531.2 C825,534 829.5,545 829.3,553 C829.2,557 828.5,560.5 827,563 L798.2,570.5" stroke="#1c1c1c" stroke-width="1.0" fill="#fff" />
<ellipse cx="795.0" cy="554.6" rx="8.3" ry="16.0" transform="rotate(-16 795.0 554.6)" stroke="#1c1c1c" stroke-width="1.2" fill="#fff"/>
<ellipse cx="795.2" cy="554.7" rx="7.3" ry="14.9" transform="rotate(-16 795.2 554.7)" stroke="#555" stroke-width="0.8" fill="none"/>
<path d="M807.8,536.2 C808.5,533.5 814,532.5 815.5,535.5 C815,537.8 809,538.8 807.8,536.2 Z" stroke="#1c1c1c" stroke-width="1.0" fill="none" />
<line x1="822" y1="578.2" x2="837.5" y2="578.2" stroke="#1c1c1c" stroke-width="1.0"/>
<line x1="822" y1="578.2" x2="813" y2="563" stroke="#1c1c1c" stroke-width="1.0"/>
<line x1="814.0" y1="564.7" x2="816.1" y2="568.2" stroke="#1c1c1c" stroke-width="2.0"/>
<text transform="translate(837.5 577.0) scale(0.93 1)" text-anchor="end">10</text>
<ellipse cx="833.0" cy="543.8" rx="2.1" ry="3.6" transform="rotate(-20 833.0 543.8)" stroke="#333" stroke-width="1.6" fill="none"/>
<line x1="847.8" y1="570.2" x2="864.9" y2="570.2" stroke="#1c1c1c" stroke-width="1.0"/>
<line x1="847.8" y1="570.2" x2="836" y2="548.2" stroke="#1c1c1c" stroke-width="1.0"/>
<line x1="836.9" y1="550.0" x2="838.8" y2="553.5" stroke="#1c1c1c" stroke-width="2.0"/>
<text transform="translate(865.5 569.0) scale(0.93 1)" text-anchor="end">25</text>
<path d="M839,540 L845.8,538 C846.8,539 847,542 846.2,543 L839.5,544.6 C838.5,543.5 838.3,541 839,540 Z" stroke="#1c1c1c" stroke-width="0.9" fill="#333" />
<ellipse cx="847.5" cy="539.3" rx="1.9" ry="3.1" transform="rotate(-15 847.5 539.3)" stroke="#1c1c1c" stroke-width="1.5" fill="#fff"/>
<line x1="870.8" y1="563.8" x2="886.4" y2="563.8" stroke="#1c1c1c" stroke-width="1.0"/>
<line x1="870.8" y1="563.8" x2="849.3" y2="542.3" stroke="#1c1c1c" stroke-width="1.0"/>
<line x1="850.7" y1="543.7" x2="853.5" y2="546.5" stroke="#1c1c1c" stroke-width="2.0"/>
<text transform="translate(881.8 562.5999999999999) scale(0.93 1)" text-anchor="end">7</text>
<path d="M866.7,516.3 C873,518 879,526 879.6,533.3 L880.4,540.6" stroke="#1c1c1c" stroke-width="1.2" fill="none" />
<path d="M864.5,517.8 C870.5,520.5 876,528 876.8,535 L877,539" stroke="#1c1c1c" stroke-width="1.0" fill="none" />
<path d="M864.5,517.8 C862,518 860,519 858.5,520.5" stroke="#333" stroke-width="1.8" fill="none" />
<path d="M857.4,522.5 L859.5,520 L868,519 L870.7,521.2 L870.7,525.8 L859.8,527 L857.4,525.5 Z" stroke="#1c1c1c" stroke-width="1.1" fill="#fff" />
<path d="M857.6,522.5 L868,521.8" stroke="#1c1c1c" stroke-width="0.9" fill="none" />
<path d="M860.3,527 L862,540.5" stroke="#1c1c1c" stroke-width="1.0" fill="none" />
<path d="M857.4,531.8 L864.3,531.2 L864.3,537.5 L857.6,538.2 Z" stroke="#1c1c1c" stroke-width="1.1" fill="#fff" />
<path d="M868.3,530.2 L874.8,529.6 L874.8,536 L868.3,536.6 Z" stroke="#1c1c1c" stroke-width="1.1" fill="none" />
<path d="M862.6,540.8 L880.4,537.6 L880.4,542.8 L864.8,546.6 L862.6,544.2 Z" stroke="#1c1c1c" stroke-width="1.1" fill="#fff" />
<path d="M867.5,546 C869.5,549 873,550 876,548.8 C877.5,547.5 878.5,545.5 878.8,543.5 Z" stroke="#1c1c1c" stroke-width="0.9" fill="#777" />
<line x1="900.5" y1="555.3" x2="916" y2="555.3" stroke="#1c1c1c" stroke-width="1.0"/>
<line x1="900.5" y1="555.3" x2="881.2" y2="543.8" stroke="#1c1c1c" stroke-width="1.0"/>
<line x1="882.9" y1="544.8" x2="886.4" y2="546.9" stroke="#1c1c1c" stroke-width="2.0"/>
<text transform="translate(914 554.0999999999999) scale(0.93 1)" text-anchor="end">(6)</text>
<path d="M807.2,513.5 C807,508.5 810.5,506.8 812.5,507 C815,507.2 816.3,509.5 816.2,513 L816.3,518.5 Q812,521.5 807.3,519.5 Z" stroke="#1c1c1c" stroke-width="1.1" fill="#fff" />
<path d="M807.3,513.5 Q811.5,516 816.2,513.3" stroke="#1c1c1c" stroke-width="1.0" fill="none" />
<line x1="830.8" y1="494.5" x2="846.8" y2="494.5" stroke="#1c1c1c" stroke-width="1.0"/>
<line x1="830.8" y1="494.5" x2="816" y2="509" stroke="#1c1c1c" stroke-width="1.0"/>
<line x1="817.4" y1="507.6" x2="820.3" y2="504.8" stroke="#1c1c1c" stroke-width="2.0"/>
<text transform="translate(842.2 493.3) scale(0.93 1)" text-anchor="end">4</text>
<path d="M808.3,524 L814.8,523.2 L815,529.5 Q811.5,531.5 808.5,530 Z" stroke="#1c1c1c" stroke-width="1.0" fill="#3a3a3a" />
<path d="M808.5,525.8 L814.8,525 M808.5,527.8 L814.9,527" stroke="#999" stroke-width="0.7" fill="none" />
<line x1="831.5" y1="513" x2="847.5" y2="513" stroke="#1c1c1c" stroke-width="1.0"/>
<line x1="831.5" y1="513" x2="814.5" y2="524.5" stroke="#1c1c1c" stroke-width="1.0"/>
<line x1="816.2" y1="523.4" x2="819.5" y2="521.1" stroke="#1c1c1c" stroke-width="2.0"/>
<text transform="translate(846.5 511.8) scale(0.93 1)" text-anchor="end">27</text>
<path d="M789.5,520.5 L800,518.2 C801.5,519 801.3,522 800.3,522.5 L789.8,524.5 C788.5,523.5 788.5,521.5 789.5,520.5 Z" stroke="#1c1c1c" stroke-width="1.0" fill="#fff" />
<line x1="792" y1="494.5" x2="808.3" y2="494.5" stroke="#1c1c1c" stroke-width="1.0"/>
<line x1="792" y1="494.5" x2="792" y2="517.5" stroke="#1c1c1c" stroke-width="1.0"/>
<line x1="792" y1="505" x2="792" y2="515" stroke="#1c1c1c" stroke-width="1.8"/>
<text transform="translate(808.5 493.3) scale(0.93 1)" text-anchor="end">26</text>
</svg>
</body></html>
